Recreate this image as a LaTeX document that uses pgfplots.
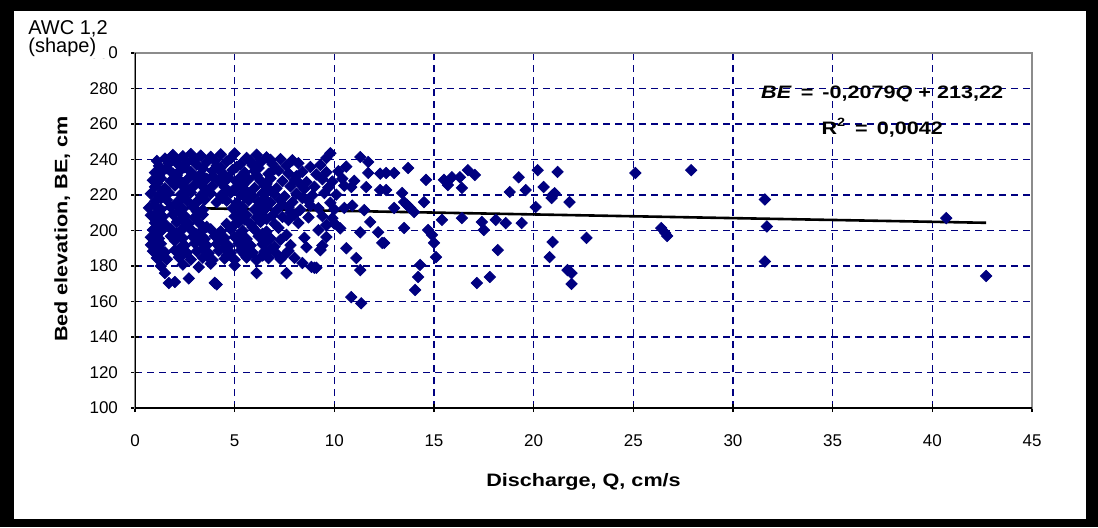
\documentclass[border=0pt]{standalone}
\usepackage{fontspec}
\setmainfont{Liberation Sans}
\newfontfamily\lblfont[FakeStretch=1.2]{Liberation Sans}
\usepackage{pgfplots}
\usepackage{pgfplotstable}
\pgfplotsset{compat=1.18}
\definecolor{navy}{RGB}{0,0,128}
\definecolor{plotframe}{RGB}{140,140,140}

% Bed elevation vs discharge
\pgfplotstableread{
q be
1.5 240.5
1.9 242.6
2.4 241.8
2.8 243.1
3.3 242.2
3.8 241.5
4.3 242.9
5.0 243.4
5.6 240.9
6.1 242.7
6.6 241.2
7.3 240.2
7.9 239.6
9.8 243.5
9.6 240.8
1.2 236.4
1.7 237.8
2.2 236.9
2.6 238.3
3.1 237.1
3.6 238.6
4.1 236.5
4.6 238.9
5.3 237.4
5.9 236.8
6.3 238.4
6.9 237.3
7.6 236.6
8.2 237.9
8.8 235.8
9.3 236.9
1.0 232.6
1.4 233.7
1.9 232.1
2.3 234.2
2.8 233.0
3.3 231.8
3.9 233.6
4.4 232.4
4.9 234.1
5.5 232.7
6.0 233.5
6.7 231.9
7.2 233.8
7.7 232.2
8.4 233.1
9.1 231.6
9.6 232.8
10.2 233.4
0.9 228.3
1.3 229.4
1.8 227.9
2.2 228.8
2.7 229.6
3.2 227.6
3.6 229.1
4.2 228.4
4.7 229.7
5.1 227.5
5.7 228.9
6.3 228.1
6.8 229.4
7.4 227.8
8.0 228.6
8.6 227.3
9.4 228.9
9.9 227.6
10.4 229.2
1.0 224.6
1.5 223.8
2.0 225.3
2.5 224.1
3.0 225.6
3.5 223.9
3.9 225.1
4.5 224.4
5.0 223.6
5.4 225.4
6.0 224.0
6.5 225.2
7.1 223.7
7.8 224.8
8.5 223.5
9.0 224.7
9.7 224.2
10.5 225.3
0.8 220.7
1.2 219.9
1.7 221.2
2.3 220.3
2.8 221.5
3.3 219.7
3.8 220.9
4.3 219.6
4.8 221.3
5.3 220.1
5.9 219.4
6.4 221.0
7.0 220.4
7.5 219.2
8.1 220.8
8.9 219.9
9.5 221.1
10.1 220.2
1.0 216.4
1.6 217.2
2.1 215.8
2.6 216.9
3.1 216.1
3.5 217.4
4.1 215.9
4.6 216.8
5.1 215.5
5.7 217.0
6.2 216.2
6.8 215.7
7.3 217.1
7.9 216.0
8.7 216.6
9.8 215.6
0.7 212.8
1.3 211.9
1.8 213.1
2.4 212.2
2.9 213.4
3.4 211.6
4.9 212.5
5.4 213.3
6.0 211.8
6.6 212.9
7.1 211.4
7.7 213.0
8.3 211.7
9.2 212.6
10.0 211.9
0.8 208.6
1.4 207.8
1.9 209.1
2.5 208.2
3.0 207.5
3.4 209.0
5.0 207.9
5.6 208.8
6.1 207.3
6.9 208.5
7.4 207.6
8.0 208.9
8.7 207.4
9.4 208.1
9.9 206.9
1.0 204.3
1.5 203.6
2.1 204.8
2.7 203.9
3.2 204.5
4.6 203.7
5.2 204.6
5.8 203.5
6.3 204.9
7.0 203.8
8.2 204.2
9.6 203.1
10.0 204.0
10.3 201.2
0.9 200.4
1.3 199.6
1.8 200.9
2.3 199.8
2.8 200.6
3.3 199.3
3.8 200.7
4.3 199.5
4.8 200.8
5.4 199.9
6.0 200.5
6.6 199.4
7.6 197.5
9.2 200.2
0.8 196.2
1.2 195.5
1.8 196.8
2.4 195.7
2.9 196.5
3.5 195.3
4.0 196.9
4.5 195.8
5.0 196.4
5.6 195.2
6.2 196.7
6.8 195.6
7.3 194.8
8.5 195.9
9.6 196.3
0.8 191.9
1.3 192.6
2.5 191.5
3.0 192.8
3.6 191.7
4.1 192.4
4.7 191.3
5.2 192.7
5.8 191.6
6.4 192.3
7.0 190.9
7.8 191.8
8.6 190.6
9.4 191.5
0.9 188.4
1.5 187.7
2.0 188.9
2.6 187.5
3.1 188.3
3.7 187.2
4.2 188.6
4.8 187.4
5.3 188.8
5.9 187.6
6.5 188.2
7.1 187.0
7.7 188.5
9.3 189.0
1.1 184.5
1.6 183.8
2.2 184.9
2.8 183.6
3.4 184.7
3.9 183.4
4.5 184.2
5.0 183.5
5.6 184.8
6.1 183.3
6.7 184.4
7.3 183.9
8.0 184.6
8.4 181.7
9.0 179.0
8.85 179.5
1.3 180.0
1.5 176.0
1.7 170.4
2.0 171.0
2.7 173.0
3.2 179.4
4.0 170.5
4.1 169.6
6.1 176.0
7.6 176.0
5.0 180.3
2.4 180.8
3.8 181.3
1.1 239.2
2.1 239.6
3.0 240.1
4.0 239.4
4.8 240.6
5.8 239.1
6.8 239.8
1.6 235.1
2.5 235.7
3.4 234.9
4.3 235.4
5.1 235.8
6.2 235.2
7.0 234.6
1.2 230.9
2.1 231.2
3.0 230.4
3.9 230.8
5.3 230.2
6.1 231.0
8.1 230.6
1.1 226.4
2.4 226.7
3.3 226.1
4.4 226.5
5.4 226.9
6.6 226.3
8.3 226.0
1.4 222.3
2.7 222.8
3.6 222.1
4.6 222.6
5.6 222.0
6.8 222.4
1.3 218.2
2.4 218.6
3.3 218.0
4.4 218.4
5.5 218.8
6.5 218.1
8.4 218.3
1.0 214.3
2.1 214.6
3.0 214.9
5.2 214.5
6.3 214.2
7.4 214.7
8.8 214.1
1.1 210.2
2.2 210.5
3.1 210.8
5.3 210.3
6.4 210.6
7.8 210.1
1.2 206.1
2.4 206.4
5.5 206.2
6.6 206.5
7.7 205.9
1.2 202.1
2.5 202.4
3.6 202.0
4.9 202.3
5.9 201.8
7.2 201.5
1.1 198.0
2.1 198.3
3.1 197.8
4.2 198.2
5.2 197.6
6.4 198.1
1.0 193.8
2.0 194.2
3.3 193.9
4.4 194.1
5.4 193.7
6.6 194.0
1.2 190.1
2.3 190.4
3.4 189.9
4.5 190.2
5.6 190.0
6.8 189.7
1.3 186.1
2.4 186.3
3.6 185.8
4.6 186.0
5.5 186.4
6.4 185.9
7.5 186.2
11.3 241.4
11.7 238.6
11.7 232.4
12.3 232.0
11.6 224.5
12.3 222.8
10.85 224.5
11.0 228.0
10.6 236.0
10.9 214.0
10.5 212.7
11.5 211.5
11.8 204.8
11.3 199.0
12.2 199.0
12.4 193.0
10.6 190.0
11.1 184.5
11.3 177.7
10.85 162.5
11.35 159.0
10.0 204.0
9.6 203.0
9.3 189.0
9.1 179.0
12.6 232.4
13.0 232.4
13.7 235.2
12.6 222.8
13.4 221.1
13.5 216.0
13.65 214.4
13.8 212.7
13.0 212.7
14.0 210.4
14.6 228.5
14.5 216.0
13.5 201.4
12.5 193.0
14.7 200.3
14.9 197.5
15.0 193.0
15.1 185.0
14.3 180.6
14.2 173.8
14.05 166.5
15.5 228.5
15.7 225.6
15.9 230.0
16.3 230.0
16.7 234.0
17.05 231.3
16.4 224.0
15.4 206.0
16.4 207.0
17.4 204.8
17.5 200.3
18.1 206.0
18.6 204.2
18.2 189.0
17.8 173.8
17.15 170.4
19.25 230.0
18.8 221.7
19.6 222.8
19.4 204.2
20.1 213.2
20.2 234.0
20.5 224.5
20.9 218.3
20.95 193.5
20.8 185.0
21.2 233.0
20.95 220.0
21.05 221.0
21.8 216.0
22.65 195.8
21.7 177.7
21.9 176.0
21.9 169.9
25.1 232.4
27.9 234.0
26.4 201.4
26.6 198.6
26.7 196.9
31.6 217.5
31.7 202.3
31.6 182.5
40.7 207.0
42.7 174.4
}\scatterdata

\begin{document}
\begin{tikzpicture}
\fill[black] (0pt,0pt) rectangle (549pt,263.5pt);
\fill[white] (7pt,4pt) rectangle (543pt,258pt);
\begin{axis}[
  at={(67.5pt,59.5pt)}, anchor=south west, scale only axis,
  width=448.5pt, height=177.5pt,
  xmin=0, xmax=45, ymin=100, ymax=300,
  xtick={0,5,...,45}, ytick={100,120,...,300},
  grid=major,
  major grid style={navy, line width=0.8pt, dash pattern=on 3.5pt off 2.5pt},
  axis line style={draw=plotframe, line width=0.6pt},
  tick pos=left, tick align=center, major tick length=4pt,
  tick style={black, line width=0.6pt},
  /pgf/number format/assume math mode=true,
  ticklabel style={font=\fontsize{8.5}{10}\selectfont},
  xticklabel style={yshift=-8pt},
  yticklabel style={xshift=-3pt},
  xlabel={\lblfont\bfseries Discharge, Q, cm/s},
  ylabel={\lblfont\bfseries Bed elevation, BE, cm},
  label style={font=\fontsize{9}{11}\selectfont},
  xlabel style={at={(axis description cs:0.5,-0.208)}, anchor=center},
  ylabel style={at={(axis description cs:-0.081,0.504)}, anchor=center},
]
\addplot[only marks, mark=square*, mark size=2pt,
  mark options={rotate=45, draw=navy, fill=navy}] table[x=q, y=be] {\scatterdata};
\addplot[black, line width=1.3pt] coordinates {(0.7,213.07) (42.7,204.34)};
\draw[black, line width=0.8pt] (rel axis cs:0,1) -- (rel axis cs:0,0) -- (rel axis cs:1,0);
\node[font=\fontsize{9}{11}\selectfont\lblfont\bfseries] at (axis description cs:0.833,0.884)
  {\textit{BE} \,=\, -0,2079\textit{Q} + 213,22};
\node[font=\fontsize{9}{11}\selectfont\lblfont\bfseries] at (axis description cs:0.833,0.789)
  {R\textsuperscript{2} \,=\, 0,0042};
\end{axis}
\node[anchor=north west, align=left, inner sep=0.5pt, fill=white,
  font=\fontsize{10}{9}\selectfont] at (13.5pt,254pt) {AWC 1,2\\(shape)};
\end{tikzpicture}
\end{document}
